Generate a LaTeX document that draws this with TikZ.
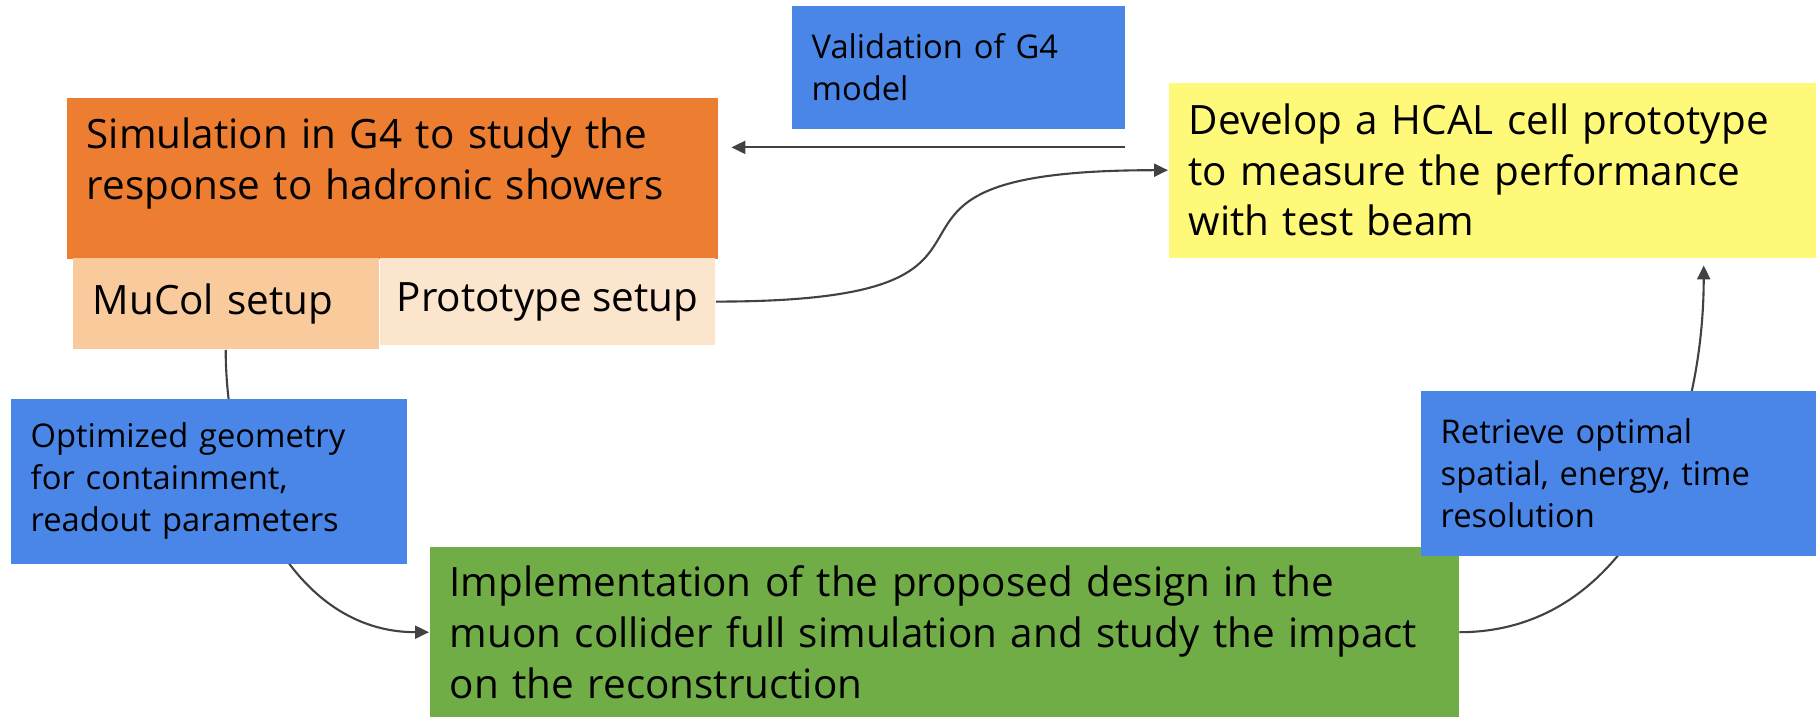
\documentclass[tikz,border=0pt]{standalone}
\usepackage{fontspec}
\setmainfont{Open Sans}
\usepackage{xcolor}
\usetikzlibrary{calc, positioning, backgrounds, arrows.meta}

\definecolor{boxblue}{HTML}{4A86E8}
\definecolor{boxorange}{HTML}{ED7D31}
\definecolor{setupdark}{HTML}{F9CB9C}
\definecolor{setuplight}{HTML}{FCE5CD}
\definecolor{boxyellow}{HTML}{FFF97A}
\definecolor{boxgreen}{HTML}{70AD47}
\definecolor{linkgray}{HTML}{424242}

\newcommand{\bigtext}{\fontsize{11.5}{14.4}\selectfont\hyphenpenalty=10000}
\newcommand{\smalltext}{\fontsize{9.3}{11.9}\selectfont\hyphenpenalty=10000}

\begin{document}
\begin{tikzpicture}[-,
    box/.style={anchor=north west,inner xsep=0.2cm,inner ysep=0.1cm,align=left,font=\bigtext},
    label box/.style={box,fill=boxblue,font=\smalltext},
    link/.style={draw=linkgray,line width=0.6pt},
    arrow link/.style={link,-{Triangle[length=0.14cm,width=0.13cm]}}]
  \useasboundingbox (0,0) rectangle (18.16,-7.17);

  \node[box,fill=boxorange,text width=6.11cm,text height=0.36cm,text depth=0.95cm,inner ysep=0.15cm] (sim) at (0.66,-0.97)
    {Simulation in G4 to study the\\response to hadronic showers};
  \node[box,fill=setupdark,text width=2.66cm,minimum height=0.91cm] (mucol) [below right=-0.02cm and 0.06cm of sim.south west] {MuCol setup};
  \node[box,fill=setuplight,inner xsep=0.15cm,minimum width=3.35cm,minimum height=0.87cm] (proto) at (mucol.north east) {Prototype setup};

  \node[label box,text width=2.93cm,minimum height=1.23cm] (valid) at (7.91,-0.05) {Validation of G4\\model};
  \node[box,fill=boxyellow,text width=6.08cm,minimum height=1.75cm] (hcal) at (11.68,-0.82)
    {Develop a HCAL cell prototype\\to measure the performance\\with test beam};
  \node[box,fill=boxgreen,text width=9.89cm,minimum height=1.71cm] (impl) at (4.29,-5.46)
    {Implementation of the proposed design in the\\muon collider full simulation and study the impact\\on the reconstruction};

  \node[label box,text width=3.56cm,minimum height=1.65cm] (optim) at (0.10,-3.98)
    {Optimized geometry\\for containment,\\readout parameters};
  \node[label box,text width=3.56cm,minimum height=1.65cm] (retr) at (14.20,-3.90)
    {Retrieve optimal\\spatial, energy, time\\resolution};

  % connectors go under the boxes
  \begin{scope}[on background layer]
    \coordinate (fb) at ($(valid.south east)+(0,-0.18)$);
    \draw[arrow link,shorten >=0.13cm] (fb) -- (fb -| sim.east);
    \draw[arrow link] (proto.east) to[out=0,in=180,looseness=2] (hcal.west);
    \draw[arrow link] (mucol.south) to[out=-90,in=180] (impl.west);
    \draw[arrow link,shorten >=0.07cm] (impl.east) to[out=0,in=-90] ([xshift=2.11cm]hcal.south);
  \end{scope}
\end{tikzpicture}
\end{document}
